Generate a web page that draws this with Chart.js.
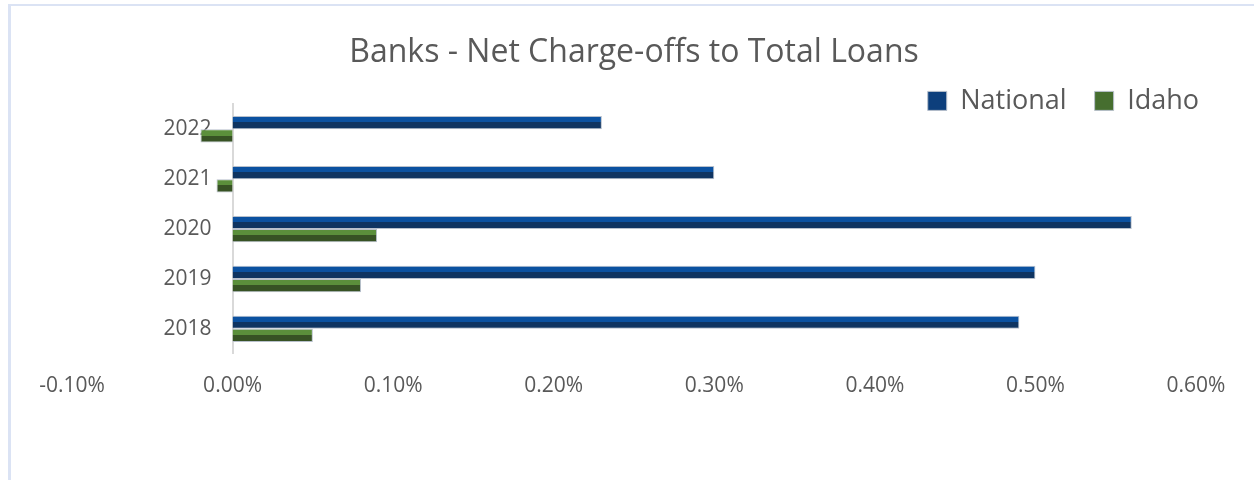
<!DOCTYPE html>
<html><head><meta charset="utf-8">
<script src="https://cdn.jsdelivr.net/npm/chart.js@4/dist/chart.umd.min.js"></script>
<style>
html,body{margin:0;padding:0;background:#fff;overflow:hidden;width:1254px;height:480px;}
#frame{position:absolute;left:8px;top:4px;width:1400px;height:600px;border-left:3px solid #dbe3f4;border-top:2px solid #dbe3f4;}
#wrap{position:absolute;left:0;top:0;width:1254px;height:480px;}
</style></head><body>
<div id="frame"></div>
<div id="wrap"><canvas id="c" width="1254" height="480"></canvas></div>
<script>
const categories = ['2022', '2021', '2020', '2019', '2018'];
const nationalValues = [0.23, 0.30, 0.56, 0.50, 0.49];
const idahoValues = [-0.02, -0.01, 0.09, 0.08, 0.05];
const xTickValues = [-0.1, 0, 0.1, 0.2, 0.3, 0.4, 0.5, 0.6];
const seriesNames = ['National', 'Idaho'];

const CAT_PCT = 0.53, BAR_PCT = 1;
const TEXT = '#595959';
const LEGEND_SHIFT_Y = 44, LEGEND_SHIFT_X = 31;

Chart.defaults.font.family = "'Open Sans', sans-serif";
Chart.defaults.color = TEXT;

function clamp01(v) { return Math.min(1, Math.max(0, v)); }
function barGradient(light, dark) {
  return (ctx) => {
    const chart = ctx.chart;
    const ys = chart.scales && chart.scales.y;
    if (!chart.chartArea || !ys || ys.bottom === undefined) return dark;
    const ds = ctx.datasetIndex || 0;
    const n = categories.length;
    const band = (ys.bottom - ys.top) / n;
    const thick = band * CAT_PCT * BAR_PCT / 2;
    const H = chart.height;
    const g = chart.ctx.createLinearGradient(0, 0, 0, H);
    for (let i = 0; i < n; i++) {
      const c = ys.getPixelForValue(i);
      const top = c - thick + ds * thick;
      const bot = top + thick;
      const mid = top + thick * 0.47;
      g.addColorStop(clamp01(top / H), light);
      g.addColorStop(clamp01(mid / H), light);
      g.addColorStop(clamp01(mid / H), dark);
      g.addColorStop(clamp01(bot / H), dark);
    }
    return g;
  };
}
const legendFill = ['#0d3f7c', '#466e2f'];

const legendShift = {
  id: 'legendShift',
  afterLayout(chart) {
    const l = chart.legend;
    if (l) {
      l.top -= LEGEND_SHIFT_Y;
      l.bottom = l.top + 80;
      l.left += LEGEND_SHIFT_X; l.right += LEGEND_SHIFT_X;
    }
  }
};

new Chart(document.getElementById('c'), {
  type: 'bar',
  data: {
    labels: categories,
    datasets: [
      { label: seriesNames[0], data: nationalValues,
        backgroundColor: barGradient('#0b51a0', '#0f3461'),
        borderColor: '#b8c0cc', borderWidth: 1,
        categoryPercentage: CAT_PCT, barPercentage: BAR_PCT },
      { label: seriesNames[1], data: idahoValues,
        backgroundColor: barGradient('#5b8f3b', '#375224'),
        borderColor: '#b8c0cc', borderWidth: 1,
        categoryPercentage: CAT_PCT, barPercentage: BAR_PCT }
    ]
  },
  options: {
    indexAxis: 'y',
    responsive: false,
    devicePixelRatio: 1,
    animation: false,
    layout: { padding: { left: 72, right: 58, top: 0, bottom: 61 } },
    scales: {
      x: {
        type: 'linear', min: -0.1, max: 0.6,
        afterBuildTicks: (s) => { s.ticks = xTickValues.map(v => ({ value: v })); },
        grid: { display: false, drawTicks: false },
        border: { display: false },
        ticks: { padding: 20, color: TEXT, font: { size: 21 },
          callback: (v) => Number(v).toFixed(2) + '%' }
      },
      y: {
        type: 'category',
        position: { x: 0 },
        grid: { display: false, drawTicks: false },
        border: { display: true, color: '#d9d9d9', width: 2 },
        ticks: { color: TEXT, font: { size: 21 }, padding: 0,
          callback: function (v) { return this.getLabelForValue(v) + '\u2003'; } }
      }
    },
    plugins: {
      title: { display: true, text: 'Banks - Net Charge-offs to Total Loans',
        color: TEXT, font: { size: 32, weight: 'normal' },
        padding: { top: 34, bottom: 31 } },
      legend: {
        position: 'top', align: 'end', maxHeight: 1,
        labels: {
          boxWidth: 19, boxHeight: 19, padding: 28, color: TEXT,
          font: { size: 27 },
          generateLabels(chart) {
            const items = Chart.defaults.plugins.legend.labels.generateLabels(chart);
            items.forEach((it, i) => { it.fillStyle = legendFill[i]; it.strokeStyle = '#b8c0cc'; it.lineWidth = 1; });
            return items;
          }
        }
      },
      tooltip: { enabled: false }
    }
  },
  plugins: [legendShift]
});
</script>
</body></html>
